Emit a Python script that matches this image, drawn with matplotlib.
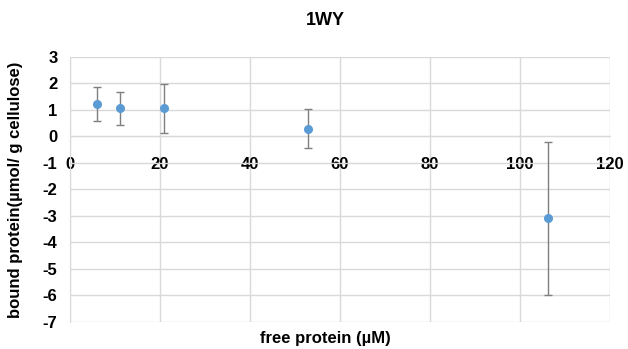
"""Scatter of bound vs free protein with error bars (1WY)"""

import matplotlib
matplotlib.use('Agg')
from matplotlib import pyplot as plt

# data
free_protein = [5.9, 11.2, 20.9, 52.9, 106.2]
bound_protein = [1.24, 1.06, 1.06, 0.30, -3.09]
bound_err = [0.64, 0.62, 0.91, 0.72, 2.88]
x_ticks = [0, 20, 40, 60, 80, 100, 120]
y_ticks = [3, 2, 1, 0, -1, -2, -3, -4, -5, -6, -7]

plt.rcParams['font.family'] = ['Liberation Sans', 'DejaVu Sans']
plt.rcParams['font.weight'] = 'bold'
plt.rcParams['axes.unicode_minus'] = False

fig = plt.figure(figsize=(6.28, 3.49), dpi=100)
ax = fig.add_axes([0.1115, 0.0774, 0.8595, 0.7593])

ax.errorbar(free_protein, bound_protein, yerr=bound_err, fmt='o',
            color='#5B9BD5', markersize=5.5, ecolor='#7F7F7F',
            elinewidth=1.0, capsize=3, capthick=1.0, zorder=3)

ax.set_xlim(0, 120)
ax.set_ylim(-7, 3)
ax.set_xticks(x_ticks)
ax.set_yticks(y_ticks)
ax.grid(True, color='#D9D9D9', linewidth=1.0)
ax.set_axisbelow(True)

for side in ['top', 'right']:
    ax.spines[side].set_visible(False)
ax.spines['left'].set_color('#D9D9D9')
ax.spines['bottom'].set_color('#D9D9D9')
ax.spines['bottom'].set_position(('data', 0))
ax.tick_params(length=0, labelsize=12)
ax.tick_params(axis='x', pad=15)
ax.tick_params(axis='y', pad=9)
for lbl in ax.get_xticklabels() + ax.get_yticklabels():
    lbl.set_fontweight('bold')

fig.text(0.5185, 0.94, '1WY', ha='center', va='center', fontsize=13, fontweight='bold')
fig.text(0.5185, 0.03, 'free protein (\u00b5M)', ha='center', va='center', fontsize=12, fontweight='bold')
fig.text(0.025, 0.457, 'bound protein(\u00b5mol/ g cellulose)', ha='center', va='center',
         rotation=90, fontsize=12, fontweight='bold')

fig.savefig('out.png', dpi=100)
